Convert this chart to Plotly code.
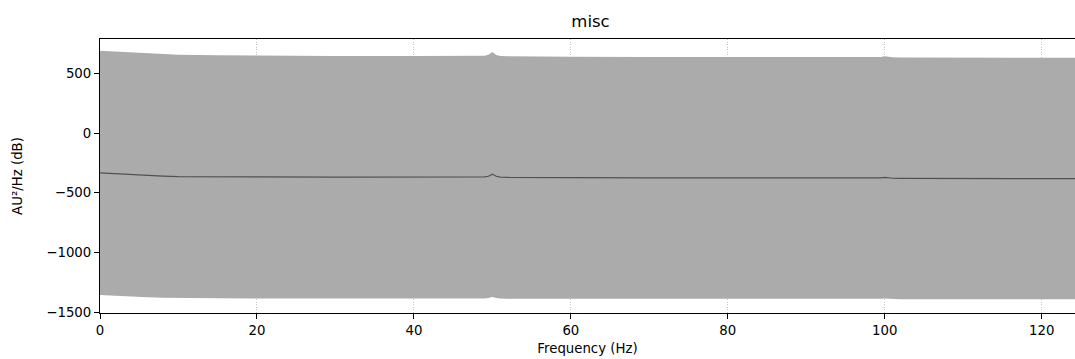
import plotly.graph_objects as go

# Power spectral density of the misc channel: mean with a +/- std band
freqs = [0, 1, 2, 4, 6, 8, 10, 15, 20, 30, 40, 47, 48, 49, 49.5, 50, 50.5, 51, 52, 53,
         60, 70, 80, 90, 98, 99, 99.5, 100, 100.5, 101, 102, 110, 120, 125]
psd_mean = [-334, -338, -342, -348, -355, -361, -365, -368, -368, -369, -369, -370, -370,
            -368, -362, -345, -362, -369, -371, -372, -373, -375, -377, -378, -379, -379,
            -376, -372, -376, -379, -380, -381, -381, -382]
psd_upper = [690, 686, 682, 674, 667, 661, 656, 651, 648, 646, 645, 645, 645, 647, 655, 679,
             654, 646, 644, 643, 640, 638, 636, 635, 634, 635, 638, 643, 638, 635, 633, 632,
             631, 631]
psd_lower = [-1358, -1362, -1366, -1372, -1377, -1380, -1383, -1385, -1386, -1387, -1388,
             -1388, -1388, -1387, -1382, -1374, -1382, -1387, -1388, -1389, -1389, -1390,
             -1390, -1391, -1391, -1391, -1389, -1386, -1389, -1391, -1392, -1392, -1393,
             -1393]

x_ticks = [0, 20, 40, 60, 80, 100, 120]
y_ticks = [500, 0, -500, -1000, -1500]

FONT = "DejaVu Sans"
band_color = "#ababab"

fig = go.Figure()
fig.add_trace(go.Scatter(x=freqs, y=psd_lower, mode="lines",
                         line=dict(width=0, color=band_color),
                         hoverinfo="skip", showlegend=False))
fig.add_trace(go.Scatter(x=freqs, y=psd_upper, mode="lines", fill="tonexty",
                         fillcolor=band_color, line=dict(width=0, color=band_color),
                         hoverinfo="skip", showlegend=False))
fig.add_trace(go.Scatter(x=freqs, y=psd_mean, mode="lines",
                         line=dict(width=1.2, color="#505050"), showlegend=False))

axis_common = dict(
    showline=True, linecolor="black", linewidth=1.1,
    ticks="outside", ticklen=5, tickwidth=1.1, tickcolor="black",
    showgrid=True, gridcolor="#c4c4c4", griddash="1px,1.5px", gridwidth=1,
    zeroline=False, tickfont=dict(family=FONT, size=13.3, color="black"),
)

fig.update_layout(
    width=1075, height=359,
    margin=dict(l=100, r=0, t=39, b=46),
    paper_bgcolor="white", plot_bgcolor="white",
    font=dict(family=FONT, color="black"),
    title=dict(text="misc", x=(100 + 1081) / 2 / 1075, xanchor="center",
               y=1 - 21 / 359, yanchor="middle", yref="container",
               font=dict(family=FONT, size=16.5, color="black")),
    xaxis=dict(range=[0, 124.24], tickvals=x_ticks, mirror=True,
               title=dict(text="Frequency (Hz)", standoff=6,
                          font=dict(family=FONT, size=13.3)),
               **axis_common),
    yaxis=dict(range=[-1508, 788], tickvals=y_ticks,
               title=dict(text="AU²/Hz (dB)", standoff=20,
                          font=dict(family=FONT, size=13.3)),
               **axis_common),
)

fig.write_html("out.html")
